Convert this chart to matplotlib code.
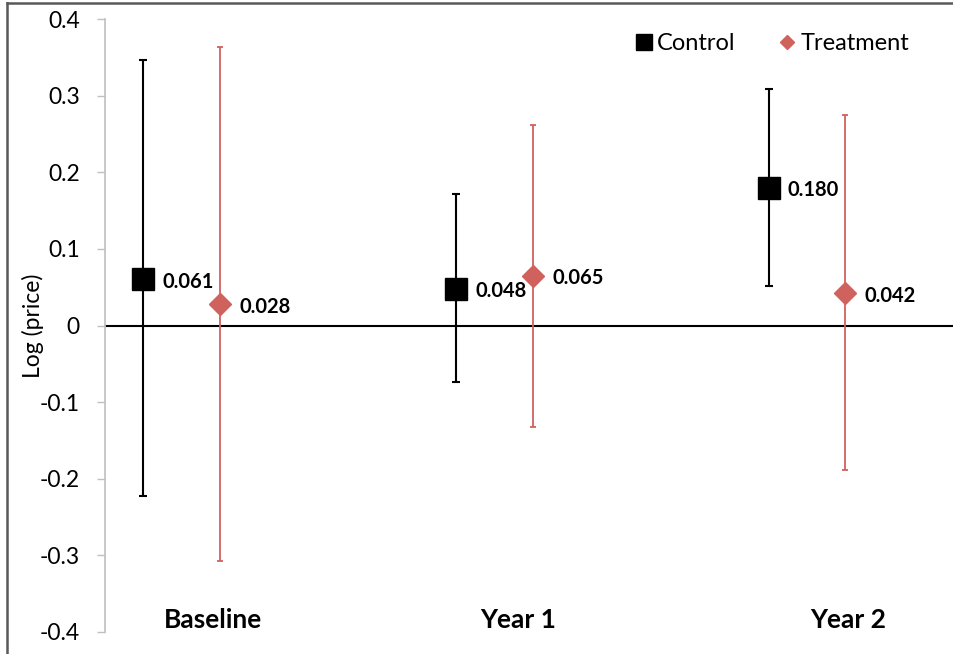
import numpy as np
import matplotlib.pyplot as plt
from matplotlib.lines import Line2D

plt.rcParams['font.family'] = ['Lato', 'DejaVu Sans']

# point estimates and interval ends for each period
periods = ['Baseline', 'Year 1', 'Year 2']
control = [0.061, 0.048, 0.180]
control_lo = [-0.223, -0.074, 0.051]
control_hi = [0.346, 0.171, 0.309]
treatment = [0.028, 0.065, 0.042]
treatment_lo = [-0.307, -0.132, -0.189]
treatment_hi = [0.363, 0.262, 0.275]
yticks = [-0.4, -0.3, -0.2, -0.1, 0, 0.1, 0.2, 0.3, 0.4]
label_pos = [0.10, 1.075, 2.131]

red = '#D0625E'
offset = 0.123
xc = np.arange(len(periods)) - offset
xt = np.arange(len(periods)) + offset

fig = plt.figure(figsize=(9.54, 6.54), dpi=100)
ax = fig.add_axes([105/954, 1 - 632/654, 1 - 105/954, (632 - 19)/654])

def err(vals, lo, hi):
    v = np.array(vals)
    return [v - np.array(lo), np.array(hi) - v]

ax.axhline(0, color='black', lw=1.5, zorder=1)
ax.errorbar(xc, control, yerr=err(control, control_lo, control_hi), fmt='s',
            color='black', ms=16, elinewidth=1.5, capsize=3, capthick=1.5,
            label='Control', zorder=3)
ax.errorbar(xt, treatment, yerr=err(treatment, treatment_lo, treatment_hi), fmt='D',
            color=red, ms=11, elinewidth=1.3, capsize=2, capthick=1.3,
            label='Treatment', zorder=3)

for x, v in zip(xc, control):
    ax.annotate(f'{v:.3f}', (x, v), xytext=(14, -2), textcoords='offset points',
                va='center', ha='left', fontsize=14.5, fontweight='bold')
for x, v in zip(xt, treatment):
    ax.annotate(f'{v:.3f}', (x, v), xytext=(14, -2), textcoords='offset points',
                va='center', ha='left', fontsize=14.5, fontweight='bold')

for x, name in zip(label_pos, periods):
    ax.text(x, -0.384, name, ha='center', va='center', fontsize=19, fontweight='bold')

ax.set_xlim(-0.2446, 2.470)
ax.set_ylim(-0.4, 0.4)
ax.set_yticks(yticks)
ax.set_yticklabels(['0' if t == 0 else f'{t:.1f}' for t in yticks], fontsize=16.5)
ax.tick_params(axis='y', length=6, width=1, color='#BFBFBF', pad=12)
ax.set_xticks([])
for s in ['top', 'right', 'bottom']:
    ax.spines[s].set_visible(False)
ax.spines['left'].set_color('#BFBFBF')
ax.spines['left'].set_linewidth(1.2)
ax.set_ylabel('Log (price)', fontsize=16.5, labelpad=-3)

handles = [Line2D([], [], marker='s', color='black', ls='none', ms=11),
           Line2D([], [], marker='D', color=red, ls='none', ms=7.5)]
ax.legend(handles, ['Control', 'Treatment'], loc='upper right', ncol=2, frameon=False,
          fontsize=17, handletextpad=0.05, columnspacing=1.7, handlelength=1,
          bbox_to_anchor=(0.972, 1.012))

# outer chart border
fig.add_artist(Line2D([7/954, 1], [1 - 3/654, 1 - 3/654], color='#595959', lw=1.8,
                      transform=fig.transFigure))
fig.add_artist(Line2D([7/954, 7/954], [0, 1 - 3/654], color='#595959', lw=1.8,
                      transform=fig.transFigure))

fig.savefig('out.png', dpi=100)
